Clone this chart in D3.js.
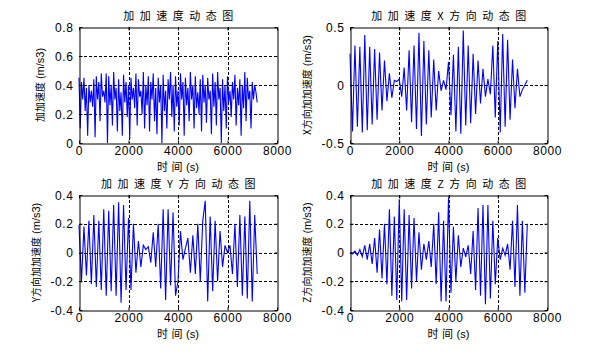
<!DOCTYPE html>
<html><head><meta charset="utf-8">
<script src="https://cdn.jsdelivr.net/npm/d3@7/dist/d3.min.js"></script>
<style>
html,body{margin:0;padding:0;background:#fff;}
svg{display:block;}
</style></head>
<body><svg id="chart" width="597" height="354"></svg>
<script>
// ---------- data ----------
const titles = ["加加速度动态图", "加加速度X方向动态图", "加加速度Y方向动态图", "加加速度Z方向动态图"];
const yLabelPrefix = ["加加速度", "X方向加加速度", "Y方向加加速度", "Z方向加加速度"];
const yLabelUnit = " (m/s3)";
const xLabelText = "时间";
const xLabelUnit = "(s)";
const xTicks = [0, 2000, 4000, 6000, 8000];
const yTicksTotal = [0, 0.2, 0.4, 0.6, 0.8];
const yTicksX = [-0.5, 0, 0.5];
const yTicksYZ = [-0.4, -0.2, 0, 0.2, 0.4];
const sampleStepTotal = 50;   // s
const sampleStepXYZ = 100;    // s

const totalJerk = [
 0.45,0.10,0.42,0.30,0.45,0.22,0.38,0.05,0.40,0.28,0.36,0.25,0.44,0.04,0.46,0.30,0.42,0.15,0.48,0.32,
 0.36,0.28,0.48,0.00,0.46,0.26,0.40,0.12,0.49,0.30,0.38,0.08,0.44,0.22,0.35,0.05,0.47,0.28,0.42,0.18,
 0.40,0.03,0.45,0.30,0.38,0.24,0.48,0.12,0.44,0.32,0.36,0.20,0.49,0.10,0.40,0.26,0.46,0.08,0.42,0.30,
 0.48,0.15,0.38,0.06,0.45,0.28,0.40,0.00,0.47,0.22,0.36,0.10,0.44,0.30,0.49,0.18,0.40,0.08,0.46,0.25,
 0.36,0.12,0.48,0.30,0.42,0.05,0.45,0.26,0.38,0.15,0.49,0.30,0.40,0.10,0.46,0.24,0.35,0.20,0.44,0.08,
 0.47,0.28,0.40,0.14,0.45,0.30,0.36,0.06,0.48,0.25,0.42,0.12,0.49,0.30,0.38,0.00,0.44,0.22,0.40,0.10,
 0.46,0.28,0.36,0.18,0.42,0.30,0.47,0.12,0.38,0.26,0.44,0.05,0.40,0.24,0.49,0.15,0.45,0.30,0.36,0.10,
 0.42,0.30,0.40,0.35,0.28
];
const xJerk = [
 0.27,-0.40,0.34,-0.36,0.33,-0.41,0.43,-0.39,0.33,-0.34,
 0.31,-0.30,0.28,-0.22,0.21,-0.14,0.10,-0.11,0.04,0.03,
 0.05,-0.10,0.15,-0.22,0.30,-0.32,0.34,-0.38,0.45,-0.44,
 0.38,-0.34,0.30,-0.28,0.22,-0.22,0.12,-0.05,0.04,-0.04,
 0.20,-0.26,0.26,-0.40,0.33,-0.42,0.47,-0.35,0.34,-0.33,
 0.27,-0.25,0.21,-0.16,0.14,-0.10,0.05,-0.08,0.34,-0.28,
 0.38,-0.41,0.44,-0.36,0.39,-0.30,0.22,-0.20,0.14,-0.10,
 -0.04,0.00,0.04
];
const yJerk = [
 0.19,-0.20,0.18,-0.16,0.22,-0.22,0.26,-0.24,0.22,-0.26,
 0.30,-0.30,0.29,-0.27,0.33,-0.30,0.35,-0.35,0.33,-0.26,
 0.24,-0.26,0.20,-0.14,0.08,-0.10,0.05,0.02,0.04,-0.07,
 0.14,-0.10,0.20,-0.25,0.30,-0.33,0.30,-0.23,0.28,-0.30,
 -0.20,0.15,-0.05,0.03,0.10,-0.14,0.12,-0.15,0.20,-0.20,
 0.22,0.36,-0.34,0.25,-0.27,0.22,-0.20,0.15,-0.10,0.05,
 0.00,0.05,-0.15,0.20,-0.24,0.26,-0.30,0.25,-0.32,0.36,
 -0.34,0.26,-0.15
];
const zJerk = [
 0.00,-0.01,0.01,-0.02,0.02,-0.03,0.05,-0.05,0.06,-0.08,
 0.10,-0.14,0.16,-0.18,0.20,-0.22,0.30,-0.30,0.25,-0.33,
 0.37,-0.34,0.30,-0.33,0.26,-0.25,0.24,-0.20,0.14,-0.12,
 0.06,-0.05,0.08,-0.10,0.20,-0.22,0.28,-0.34,0.22,-0.34,
 0.38,-0.28,0.18,-0.20,0.12,-0.10,0.03,-0.03,0.05,-0.15,
 0.15,-0.26,0.31,-0.30,0.33,-0.36,0.33,-0.32,0.22,-0.22,
 0.10,-0.05,0.03,-0.02,0.06,-0.12,0.22,-0.24,0.33,-0.30,
 0.22,-0.28,0.20
];

// ---------- layout ----------
const panels = [
  {values: totalJerk, step: sampleStepTotal, yTicks: yTicksTotal, left: 79,  right: 277, top: 27,  bottom: 143, labelX: 38},
  {values: xJerk,     step: sampleStepXYZ,   yTicks: yTicksX,     left: 350, right: 547, top: 27,  bottom: 143, labelX: 305},
  {values: yJerk,     step: sampleStepXYZ,   yTicks: yTicksYZ,    left: 79,  right: 277, top: 195, bottom: 310, labelX: 34},
  {values: zJerk,     step: sampleStepXYZ,   yTicks: yTicksYZ,    left: 350, right: 547, top: 195, bottom: 310, labelX: 305}
];

const svg = d3.select("#chart");
const numFont = "'Liberation Sans', Arial, sans-serif";
const cjkFont = "'Noto Sans CJK SC', sans-serif";

panels.forEach((p, i) => {
  const yDom = [p.yTicks[0], p.yTicks[p.yTicks.length - 1]];
  const x = d3.scaleLinear().domain([xTicks[0], xTicks[xTicks.length - 1]]).range([p.left, p.right]);
  const y = d3.scaleLinear().domain(yDom).range([p.bottom, p.top]);
  const g = svg.append("g");

  // grid
  g.selectAll(".gx").data(xTicks.slice(1, -1)).enter().append("line")
    .attr("x1", d => Math.round(x(d)) + 0.5).attr("x2", d => Math.round(x(d)) + 0.5)
    .attr("y1", p.top).attr("y2", p.bottom)
    .attr("stroke", "#000").attr("stroke-width", 1).attr("stroke-dasharray", "3,2");
  g.selectAll(".gy").data(p.yTicks.slice(1, -1)).enter().append("line")
    .attr("y1", d => Math.round(y(d)) + 0.5).attr("y2", d => Math.round(y(d)) + 0.5)
    .attr("x1", p.left).attr("x2", p.right)
    .attr("stroke", "#000").attr("stroke-width", 1).attr("stroke-dasharray", "3,2");

  // line
  const line = d3.line().x((d, k) => x(k * p.step)).y(d => y(d));
  g.append("path").datum(p.values).attr("d", line)
    .attr("fill", "none").attr("stroke", "#0000ff").attr("stroke-width", 1.1);

  // axes (MATLAB style: inward ticks, box)
  const fmt = d => d === 0 ? "0" : String(d);
  const axB = g.append("g").attr("transform", `translate(0,${p.bottom + 0.5})`)
    .call(d3.axisBottom(x).tickValues(xTicks).tickFormat(fmt).tickSizeInner(-3).tickSizeOuter(0).tickPadding(3));
  const axL = g.append("g").attr("transform", `translate(${p.left + 0.5},0)`)
    .call(d3.axisLeft(y).tickValues(p.yTicks).tickFormat(fmt).tickSizeInner(-3).tickSizeOuter(0).tickPadding(6));
  const axT = g.append("g").attr("transform", `translate(0,${p.top + 0.5})`)
    .call(d3.axisTop(x).tickValues(xTicks).tickFormat("").tickSizeInner(-3).tickSizeOuter(0));
  const axR = g.append("g").attr("transform", `translate(${p.right + 0.5},0)`)
    .call(d3.axisRight(y).tickValues(p.yTicks).tickFormat("").tickSizeInner(-3).tickSizeOuter(0));
  [axB, axL, axT, axR].forEach(a => {
    a.select(".domain").attr("stroke", "#000");
    a.selectAll(".tick line").attr("stroke", "#000");
    a.selectAll("text").attr("fill", "#000").style("font-family", numFont).style("font-size", "12px").style("letter-spacing", "0.6px");
  });
  axB.selectAll("text").attr("dy", "0.72em");
  axL.selectAll("text").attr("dy", "0.35em");

  // title
  g.append("text").attr("x", (p.left + p.right) / 2 + 3).attr("y", p.top - 7.5)
    .attr("text-anchor", "middle").style("font-family", cjkFont).style("font-size", "11px")
    .style("letter-spacing", "5.5px").attr("fill", "#000").text(titles[i]);

  // x label
  const xl = g.append("text").attr("x", (p.left + p.right) / 2).attr("y", p.bottom + 27.5)
    .attr("text-anchor", "middle").attr("fill", "#000");
  xl.append("tspan").style("font-family", cjkFont).style("font-size", "11px").style("letter-spacing", "3.5px").text(xLabelText);
  xl.append("tspan").style("font-family", numFont).style("font-size", "11px").text(xLabelUnit);

  // y label
  const yl = g.append("text")
    .attr("transform", `translate(${p.labelX},${(p.top + p.bottom) / 2}) rotate(-90)`)
    .attr("text-anchor", "middle").attr("dy", "0.35em").attr("fill", "#000");
  yl.append("tspan").style("font-family", cjkFont).style("font-size", "10px").text(yLabelPrefix[i]);
  yl.append("tspan").style("font-family", numFont).style("font-size", "11px").text(yLabelUnit);
});
</script>
</body></html>
